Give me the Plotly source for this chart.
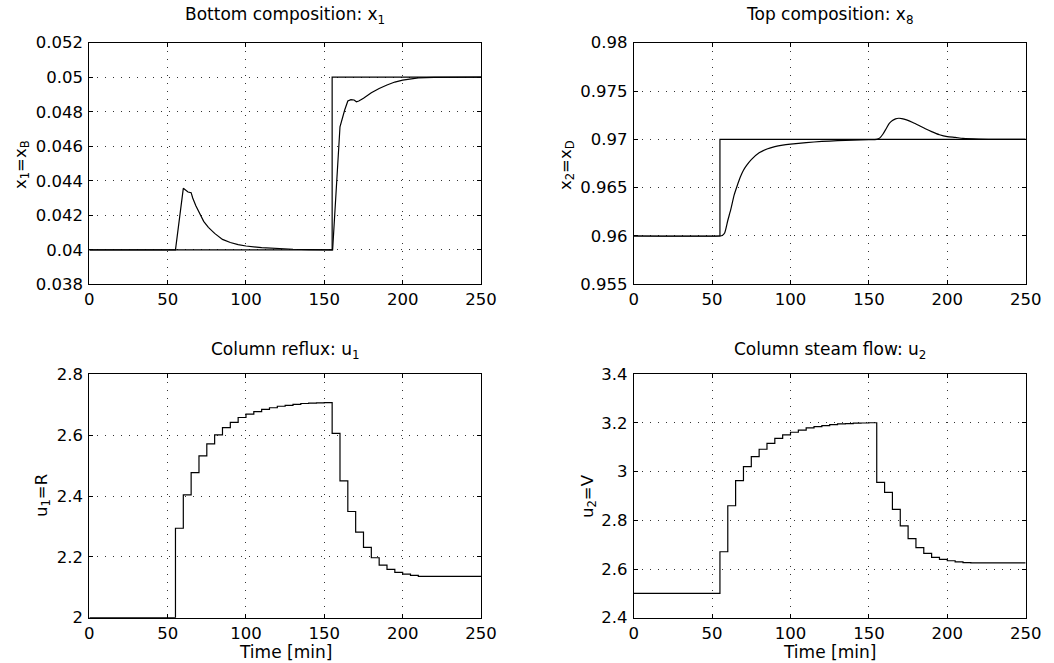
import plotly.graph_objects as go

# ---------------- data ----------------
# Bottom composition x1 (response) and its setpoint
t_x1 = [0, 55, 60, 62, 63, 65, 66, 68, 70, 73, 76, 80, 85, 90, 95, 100, 110, 120, 130, 140, 150,
        155.3, 160, 162, 163, 165, 167, 169, 170.5, 172, 175, 180, 185, 190, 195, 200, 205, 210, 220, 250]
x1 = [0.04, 0.04, 0.04356, 0.0434, 0.04335, 0.04331, 0.0430, 0.04255, 0.0422, 0.04165, 0.0413,
      0.04095, 0.0406, 0.04042, 0.0403, 0.04022, 0.04012, 0.04006, 0.04003, 0.04001, 0.0400,
      0.0400, 0.04713, 0.0478, 0.0481, 0.04862, 0.0487, 0.04868, 0.04858, 0.04862, 0.04878,
      0.0491, 0.04935, 0.04955, 0.04972, 0.04983, 0.04991, 0.04996, 0.04999, 0.05]
t_x1_sp = [0, 155, 250]
x1_sp = [0.04, 0.05, 0.05]

# Top composition x8 (response) and its setpoint
t_x8 = [0, 55, 56.5, 58, 60, 62, 64, 66, 68, 70, 72, 75, 80, 85, 90, 95, 100, 110, 120, 130, 140,
        150, 155, 157, 159, 161, 163, 165, 167, 169, 171, 174, 178, 182, 186, 190, 195, 200, 205,
        210, 220, 230, 250]
x8 = [0.96, 0.96, 0.96005, 0.9603, 0.9616, 0.9628, 0.9642, 0.9652, 0.9661, 0.9668, 0.9673, 0.9679,
      0.9686, 0.9690, 0.96925, 0.9694, 0.9695, 0.96966, 0.96978, 0.96986, 0.96992, 0.96997, 0.970,
      0.97015, 0.97055, 0.9711, 0.97165, 0.97195, 0.97212, 0.97218, 0.97215, 0.97202, 0.97175,
      0.97143, 0.9711, 0.9708, 0.97048, 0.97028, 0.9702, 0.9701, 0.97003, 0.97001, 0.970]
t_x8_sp = [0, 55, 250]
x8_sp = [0.96, 0.97, 0.97]

# Manipulated inputs (zero-order hold, 5 min sampling)
t_u = [0, 55, 60, 65, 70, 75, 80, 85, 90, 95, 100, 105, 110, 115, 120, 125, 130, 135, 140, 145,
       150, 155, 160, 165, 170, 175, 180, 185, 190, 195, 200, 205, 210, 215, 220, 225, 230, 235,
       240, 245, 250]
u1 = [2.0, 2.294, 2.404, 2.477, 2.532, 2.571, 2.601, 2.625, 2.642, 2.658, 2.669, 2.677, 2.685,
      2.690, 2.695, 2.698, 2.701, 2.704, 2.705, 2.706, 2.707, 2.606, 2.450, 2.349, 2.281, 2.231,
      2.197, 2.173, 2.159, 2.149, 2.143, 2.139, 2.136, 2.136, 2.136, 2.136, 2.136, 2.136, 2.136,
      2.136, 2.136]
u2 = [2.5, 2.671, 2.860, 2.963, 3.021, 3.062, 3.092, 3.116, 3.137, 3.151, 3.162, 3.171, 3.180,
      3.185, 3.189, 3.193, 3.196, 3.197, 3.199, 3.200, 3.201, 2.956, 2.915, 2.845, 2.777, 2.725,
      2.688, 2.664, 2.648, 2.640, 2.634, 2.629, 2.626, 2.625, 2.625, 2.625, 2.625, 2.625, 2.625,
      2.625, 2.625]

# tick labels
x_ticks = [0, 50, 100, 150, 200, 250]
x_ticktext = ["0", "50", "100", "150", "200", "250"]
y1_ticks = [0.038, 0.040, 0.042, 0.044, 0.046, 0.048, 0.050, 0.052]
y1_ticktext = ["0.038", "0.04", "0.042", "0.044", "0.046", "0.048", "0.05", "0.052"]
y2_ticks = [0.955, 0.960, 0.965, 0.970, 0.975, 0.980]
y2_ticktext = ["0.955", "0.96", "0.965", "0.97", "0.975", "0.98"]
y3_ticks = [2.0, 2.2, 2.4, 2.6, 2.8]
y3_ticktext = ["2", "2.2", "2.4", "2.6", "2.8"]
y4_ticks = [2.4, 2.6, 2.8, 3.0, 3.2, 3.4]
y4_ticktext = ["2.4", "2.6", "2.8", "3", "3.2", "3.4"]

titles = ["Bottom composition: x<sub>1</sub>", "Top composition: x<sub>8</sub>",
          "Column reflux: u<sub>1</sub>", "Column steam flow: u<sub>2</sub>"]
ylabels = ["x<sub>1</sub>=x<sub>B</sub>", "x<sub>2</sub>=x<sub>D</sub>",
           "u<sub>1</sub>=R", "u<sub>2</sub>=V"]
xlabel = "Time [min]"

# ---------------- layout geometry ----------------
W, H = 1054, 663
FONT = "DejaVu Sans, Liberation Sans, Arial, sans-serif"


def px(x):
    return x / W


def py(y):
    return 1 - y / H


dom_x = [[px(89.3), px(481.0)], [px(633.7), px(1025.7)]]
dom_y = [[py(284.3), py(42.7)], [py(617.7), py(374.3)]]

fig = go.Figure()
line = dict(color="black", width=1.2)

fig.add_trace(go.Scatter(x=t_x1_sp, y=x1_sp, mode="lines", line=dict(line, shape="hv"),
                         xaxis="x", yaxis="y", showlegend=False))
fig.add_trace(go.Scatter(x=t_x1, y=x1, mode="lines", line=line,
                         xaxis="x", yaxis="y", showlegend=False))
fig.add_trace(go.Scatter(x=t_x8_sp, y=x8_sp, mode="lines", line=dict(line, shape="hv"),
                         xaxis="x2", yaxis="y2", showlegend=False))
fig.add_trace(go.Scatter(x=t_x8, y=x8, mode="lines", line=dict(line, shape="spline", smoothing=0.6),
                         xaxis="x2", yaxis="y2", showlegend=False))
fig.add_trace(go.Scatter(x=t_u, y=u1, mode="lines", line=dict(line, shape="hv"),
                         xaxis="x3", yaxis="y3", showlegend=False))
fig.add_trace(go.Scatter(x=t_u, y=u2, mode="lines", line=dict(line, shape="hv"),
                         xaxis="x4", yaxis="y4", showlegend=False))

common = dict(showline=True, mirror="ticks", linecolor="black", linewidth=1,
              ticks="inside", ticklen=4, tickcolor="black", showgrid=True,
              gridcolor="#333333", gridwidth=1, griddash="1px,7px", zeroline=False,
              automargin=False,
              tickfont=dict(family=FONT, size=16.5, color="black"))

yt = [(y1_ticks, y1_ticktext, [0.038, 0.052]), (y2_ticks, y2_ticktext, [0.955, 0.98]),
      (y3_ticks, y3_ticktext, [2.0, 2.8]), (y4_ticks, y4_ticktext, [2.4, 3.4])]
layout = {}
for i in range(4):
    col = i % 2
    row = i // 2
    xs = "" if i == 0 else str(i + 1)
    layout["xaxis" + xs] = dict(common, domain=dom_x[col], range=[0, 250],
                                tickvals=x_ticks, ticktext=x_ticktext,
                                anchor="y" + xs)
    layout["yaxis" + xs] = dict(common, domain=dom_y[row], range=yt[i][2],
                                tickvals=yt[i][0], ticktext=yt[i][1],
                                anchor="x" + xs, ticklabelstandoff=2)

ann = []
title_y = [15, 15, 350, 350]
title_x = [285, 829.7, 285, 829.7]
ylab_x = [21, 566, 42, 588]
ylab_y = [165, 165, 496, 496]
for i in range(4):
    ann.append(dict(text=titles[i], x=px(title_x[i]), y=py(title_y[i]), xref="paper", yref="paper",
                    showarrow=False, xanchor="center", yanchor="middle",
                    font=dict(family=FONT, size=17, color="black")))
    ann.append(dict(text=ylabels[i], x=px(ylab_x[i]), y=py(ylab_y[i]), xref="paper", yref="paper",
                    showarrow=False, xanchor="center", yanchor="middle", textangle=-90,
                    font=dict(family=FONT, size=16.5, color="black")))
for cx in [285, 829.7]:
    ann.append(dict(text=xlabel, x=px(cx), y=py(652), xref="paper", yref="paper",
                    showarrow=False, xanchor="center", yanchor="middle",
                    font=dict(family=FONT, size=17, color="black")))

fig.update_layout(width=W, height=H, margin=dict(l=0, r=0, t=0, b=0),
                  paper_bgcolor="white", plot_bgcolor="white", annotations=ann, **layout)

fig.write_html("out.html", config={"displayModeBar": False},
               post_script="document.body.style.margin='0';document.body.style.overflow='hidden';")
